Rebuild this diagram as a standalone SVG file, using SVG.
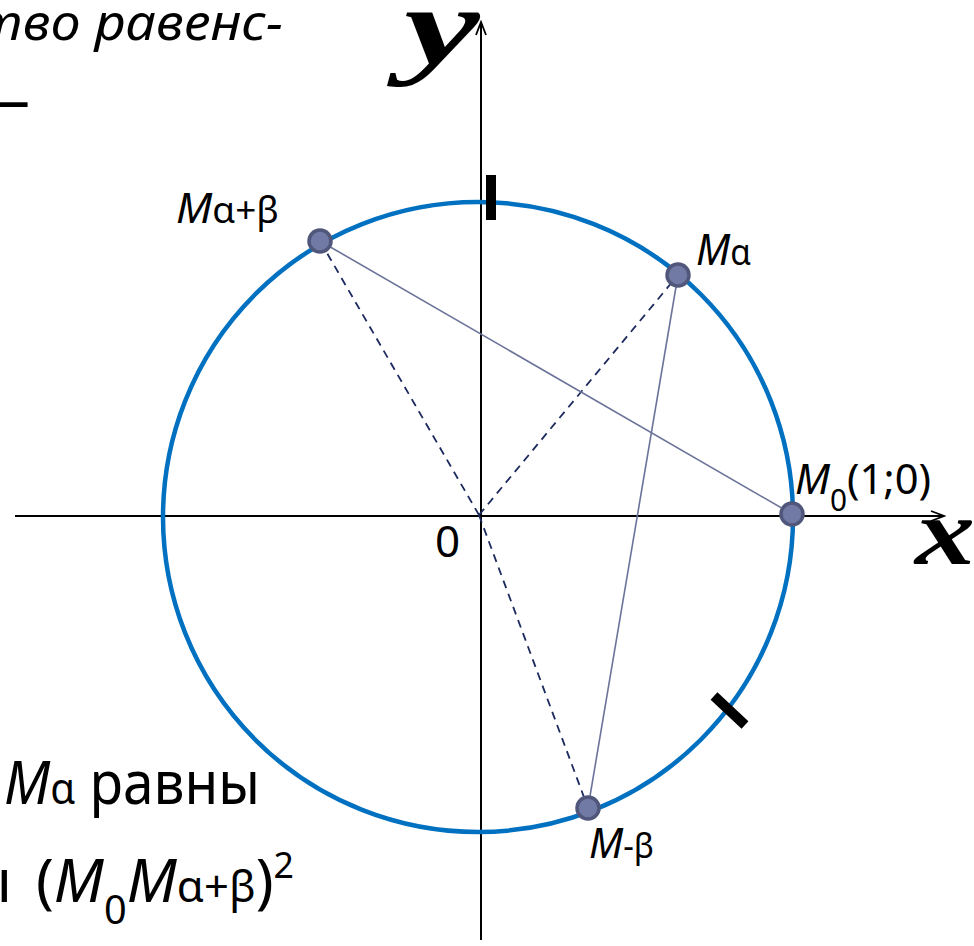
<svg xmlns="http://www.w3.org/2000/svg" width="974" height="946" viewBox="0 0 974 946">
<style>
.txt{font-family:"Noto Sans","DejaVu Sans",sans-serif;fill:#000}
.it{font-style:italic}
.up{font-style:normal}
.axis{stroke:#000;stroke-width:2;fill:none}
.chord{stroke:#6c7399;stroke-width:1.6;fill:none}
.radius{stroke:#1c2a5e;stroke-width:1.8;stroke-dasharray:8 6;fill:none}
.pt{fill:#7179a5;stroke:#50577a;stroke-width:3.5}
.tick{fill:#000}
.script{font-family:"Liberation Serif","DejaVu Serif",serif;font-style:italic;font-weight:bold;fill:#000}
</style>
<defs>
<marker id="arr" markerWidth="16" markerHeight="12" refX="14" refY="6" orient="auto" markerUnits="userSpaceOnUse">
<path d="M1,1 L14,6 L1,11" fill="none" stroke="#000" stroke-width="1.8"/>
</marker>
</defs>
<rect width="974" height="946" fill="#fff"/>

<g id="heading">
<text class="txt it" x="-24" y="40" font-size="50" textLength="307" lengthAdjust="spacingAndGlyphs">тво равенс-</text>
<text class="txt" x="30" y="121" font-size="60" text-anchor="end">—</text>
</g>

<g id="axes">
<line class="axis" x1="15" y1="516" x2="944" y2="516" marker-end="url(#arr)"/>
<line class="axis" x1="481" y1="940" x2="481" y2="22" marker-end="url(#arr)"/>
<text class="script" transform="translate(404,64) scale(1.55,1)" font-size="110">y</text>
<text class="script" transform="translate(915,564) scale(1.25,1)" font-size="96">x</text>
<text class="txt" x="435" y="557" font-size="44">0</text>
</g>

<g id="circle">
<circle cx="478" cy="517" r="315" fill="none" stroke="#0070c0" stroke-width="4.5"/>
<rect class="tick" x="486" y="175" width="10" height="45"/>
<line x1="714" y1="696" x2="745" y2="725" stroke="#000" stroke-width="10"/>
</g>

<g id="connectors">
<line class="radius" x1="479" y1="515" x2="320" y2="241"/>
<line class="radius" x1="479" y1="515" x2="678" y2="275"/>
<line class="radius" x1="479" y1="515" x2="588" y2="808"/>
<line class="chord" x1="320" y1="241" x2="792" y2="514"/>
<line class="chord" x1="678" y1="275" x2="588" y2="808"/>
</g>

<g id="M0">
<circle class="pt" cx="792" cy="514" r="11"/>
<text class="txt" x="795" y="494" font-size="42" textLength="136" lengthAdjust="spacingAndGlyphs"><tspan class="it">M</tspan><tspan font-size="30" dy="17">0</tspan><tspan font-size="42" dy="-17">(1;0)</tspan></text>
</g>

<g id="Malpha">
<circle class="pt" cx="678" cy="275" r="11"/>
<text class="txt" x="696" y="265" font-size="44" textLength="55" lengthAdjust="spacingAndGlyphs"><tspan class="it">M</tspan><tspan font-size="36">α</tspan></text>
</g>

<g id="Malphabeta">
<circle class="pt" cx="320" cy="241" r="11"/>
<text class="txt" x="176" y="223" font-size="42" textLength="103" lengthAdjust="spacingAndGlyphs"><tspan class="it">M</tspan><tspan font-size="36">α+β</tspan></text>
</g>

<g id="Mminusbeta">
<circle class="pt" cx="588" cy="808" r="11"/>
<text class="txt" x="589" y="858" font-size="42" textLength="65" lengthAdjust="spacingAndGlyphs"><tspan class="it">M</tspan><tspan font-size="34">-β</tspan></text>
</g>

<g id="bottom-text">
<text class="txt" x="4" y="804" font-size="60" textLength="256" lengthAdjust="spacingAndGlyphs"><tspan class="it">M</tspan><tspan font-size="44">α</tspan><tspan> равны</tspan></text>
<text class="txt" x="12" y="902" font-size="60" text-anchor="end">ы</text>
<text class="txt" x="36" y="902" font-size="60" textLength="258" lengthAdjust="spacingAndGlyphs"><tspan>(</tspan><tspan class="it">M</tspan><tspan font-size="40" dy="22">0</tspan><tspan class="it" dy="-22">M</tspan><tspan font-size="44">α+β</tspan><tspan>)</tspan><tspan font-size="36" dy="-24">2</tspan></text>
</g>
</svg>
